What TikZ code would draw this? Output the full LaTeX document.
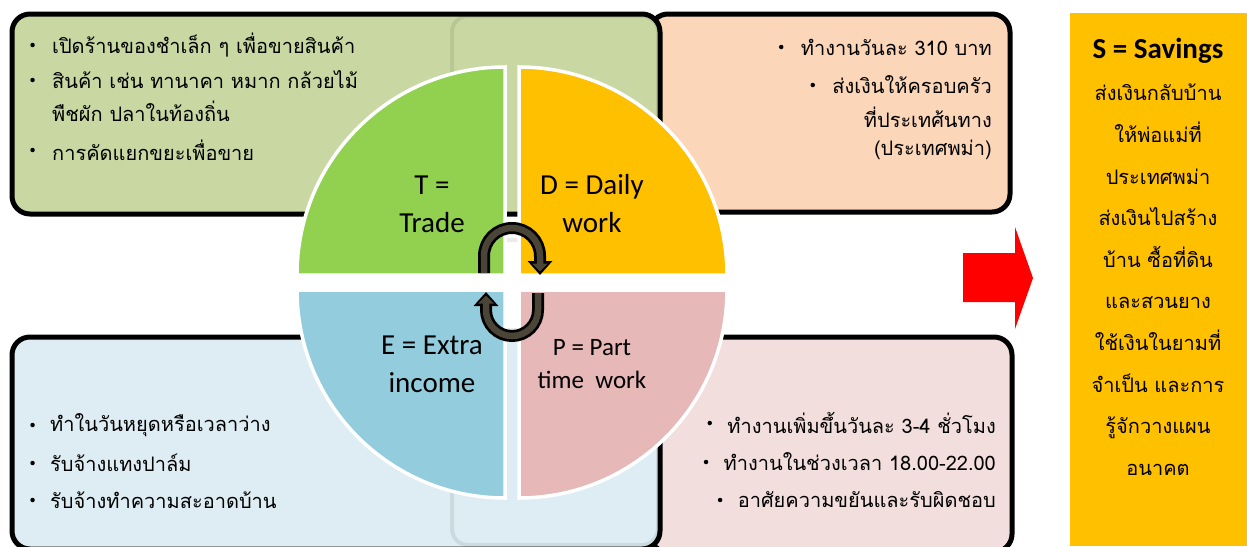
\documentclass[tikz,border=0pt]{standalone}
\usepackage{fontspec}
\setmainfont{Carlito}
\newfontfamily\thai[Script=Thai]{Loma}
\usetikzlibrary{arrows.meta,positioning}
\definecolor{tradebg}{HTML}{C9D8A3}
\definecolor{dailybg}{HTML}{FBD6B8}
\definecolor{extrabg}{HTML}{DDEDF3}
\definecolor{partbg}{HTML}{F2DEDD}
\definecolor{tradeq}{HTML}{92D050}
\definecolor{dailyq}{HTML}{FFC000}
\definecolor{extraq}{HTML}{93CDDD}
\definecolor{partq}{HTML}{E6B8B7}
\definecolor{loopfill}{HTML}{4A4536}

\begin{document}
\begin{tikzpicture}[x=1pt,y=1pt,
    box/.style={line width=5pt,rounded corners=18pt},
    ghost/.style={line width=4pt,draw=black,draw opacity=0.08,rounded corners=16pt},
    quad/.style={draw=white,line width=3.5pt},
    lbl/.style={font=\fontsize{29}{38}\selectfont,align=center,inner sep=0pt},
    item/.style={font=\thai\fontsize{20}{24}\selectfont,inner sep=0pt},
    dot/.style={circle,fill=black,inner sep=0pt,minimum size=4.5pt},
    loopout/.style={line width=12pt,-{Triangle[length=14pt,width=24pt]}},
    loopin/.style={line width=6.5pt,draw=loopfill,-{Triangle[length=8pt,width=15pt]},shorten >=3.5pt}]
    \useasboundingbox (0,0) rectangle (1247,-546);
    % the four boxes
    \draw[box,fill=dailybg] (650,-14) rectangle (1010,-212);
    \draw[box,fill=tradebg] (12,-14) rectangle (660,-214);
    \draw[box,fill=partbg] (650,-337) rectangle (1012,-552);
    \draw[box,fill=extrabg] (12,-337) rectangle (660,-549);
    \draw[ghost] (452,-16) rectangle (658,-240);
    \draw[ghost] (452,-330) rectangle (658,-545);
    % the circle
    \filldraw[quad,fill=tradeq] (505,-275) -- (297,-275) arc[start angle=180,end angle=90,radius=208pt] -- cycle;
    \filldraw[quad,fill=dailyq] (519,-275) -- (727,-275) arc[start angle=0,end angle=90,radius=208pt] -- cycle;
    \filldraw[quad,fill=extraq] (505,-290) -- (297,-290) arc[start angle=180,end angle=270,radius=208pt] -- cycle;
    \filldraw[quad,fill=partq] (519,-290) -- (727,-290) arc[start angle=0,end angle=-90,radius=208pt] -- cycle;
    \node[lbl] (t) at (432,-204) {T =\\Trade};
    \node[lbl] (d) at (592,-204) {D = Daily\\work};
    \node[lbl] (e) at (432,-364) {E = Extra\\income};
    \node[lbl,font=\fontsize{25}{33}\selectfont] (p) at (592,-364) {P = Part\\time\ \ work};
    \coordinate (ta) at (484,-273);
    \coordinate (tb) at (540,-275);
    \coordinate (ba) at (538,-293);
    \coordinate (bb) at (486,-292);
    \draw[loopout] (ta) -- ++(0,17) arc[start angle=180,end angle=0,radius=28pt] -- (tb);
    \draw[loopin] (ta) -- ++(0,17) arc[start angle=180,end angle=0,radius=28pt] -- (tb);
    \draw[loopout] (ba) -- ++(0,-17) arc[start angle=0,end angle=-180,radius=26pt] -- (bb);
    \draw[loopin] (ba) -- ++(0,-17) arc[start angle=0,end angle=-180,radius=26pt] -- (bb);
    % trade
    \node[item,anchor=west] (t1) at (52,-45) {เปิดร้านของชำเล็ก ๆ เพื่อขายสินค้า};
    \node[item,anchor=west] (t2) at (52,-80) {สินค้า เช่น ทานาคา หมาก กล้วยไม้};
    \node[item,anchor=west] (t3) at (52,-111) {พืชผัก ปลาในท้องถิ่น};
    \node[item,anchor=west] (t4) at (52,-150) {การคัดแยกขยะเพื่อขาย};
    \foreach \n in {t1,t2,t4} \node[dot,left=17pt of \n.west] {};
    % daily work
    \node[item,anchor=east] (d1) at (992,-47) {ทำงานวันละ 310 บาท};
    \node[item,anchor=east] (d2) at (992,-85) {ส่งเงินให้ครอบครัว};
    \node[item,anchor=east] (d3) at (992,-117) {ที่ประเทศ้นทาง};
    \node[item,anchor=east] (d4) at (992,-150) {(ประเทศพม่า)};
    \foreach \n in {d1,d2} \node[dot,left=17pt of \n.west] {};
    % extra income
    \node[item,anchor=west] (e1) at (50,-425) {ทำในวันหยุดหรือเวลาว่าง};
    \node[item,anchor=west] (e2) at (50,-463) {รับจ้างแทงปาล์ม};
    \node[item,anchor=west] (e3) at (50,-500) {รับจ้างทำความสะอาดบ้าน};
    \foreach \n in {e1,e2,e3} \node[dot,left=15pt of \n.west] {};
    % part time
    \node[item,anchor=east] (p1) at (996,-423) {ทำงานเพิ่มขึ้นวันละ 3-4 ชั่วโมง};
    \node[item,anchor=east] (p2) at (996,-462) {ทำงานในช่วงเวลา 18.00-22.00};
    \node[item,anchor=east] (p3) at (996,-500) {อาศัยความขยันและรับผิดชอบ};
    \foreach \n in {p1,p2,p3} \node[dot,left=15pt of \n.west] {};
    % savings
    \fill[red] (963,-253) -- (1015,-253) -- (1015,-227) -- (1033,-278) -- (1015,-329) -- (1015,-302) -- (963,-302) -- cycle;
    \fill[dailyq] (1070,-13) rectangle (1247,-546);
    \node[lbl,font=\bfseries\fontsize{29}{36}\selectfont] (s) at (1158,-51) {S = Savings};
    \node[item,font=\thai\fontsize{20}{41.6}\selectfont,align=center,anchor=north] (s1) at (1158,-84)
      {ส่งเงินกลับบ้าน\\ให้พ่อแม่ที่\\ประเทศพม่า\\ส่งเงินไปสร้าง\\บ้าน ซื้อที่ดิน\\และสวนยาง\\ใช้เงินในยามที่\\จำเป็น และการ\\รู้จักวางแผน\\อนาคต};
\end{tikzpicture}
\end{document}
